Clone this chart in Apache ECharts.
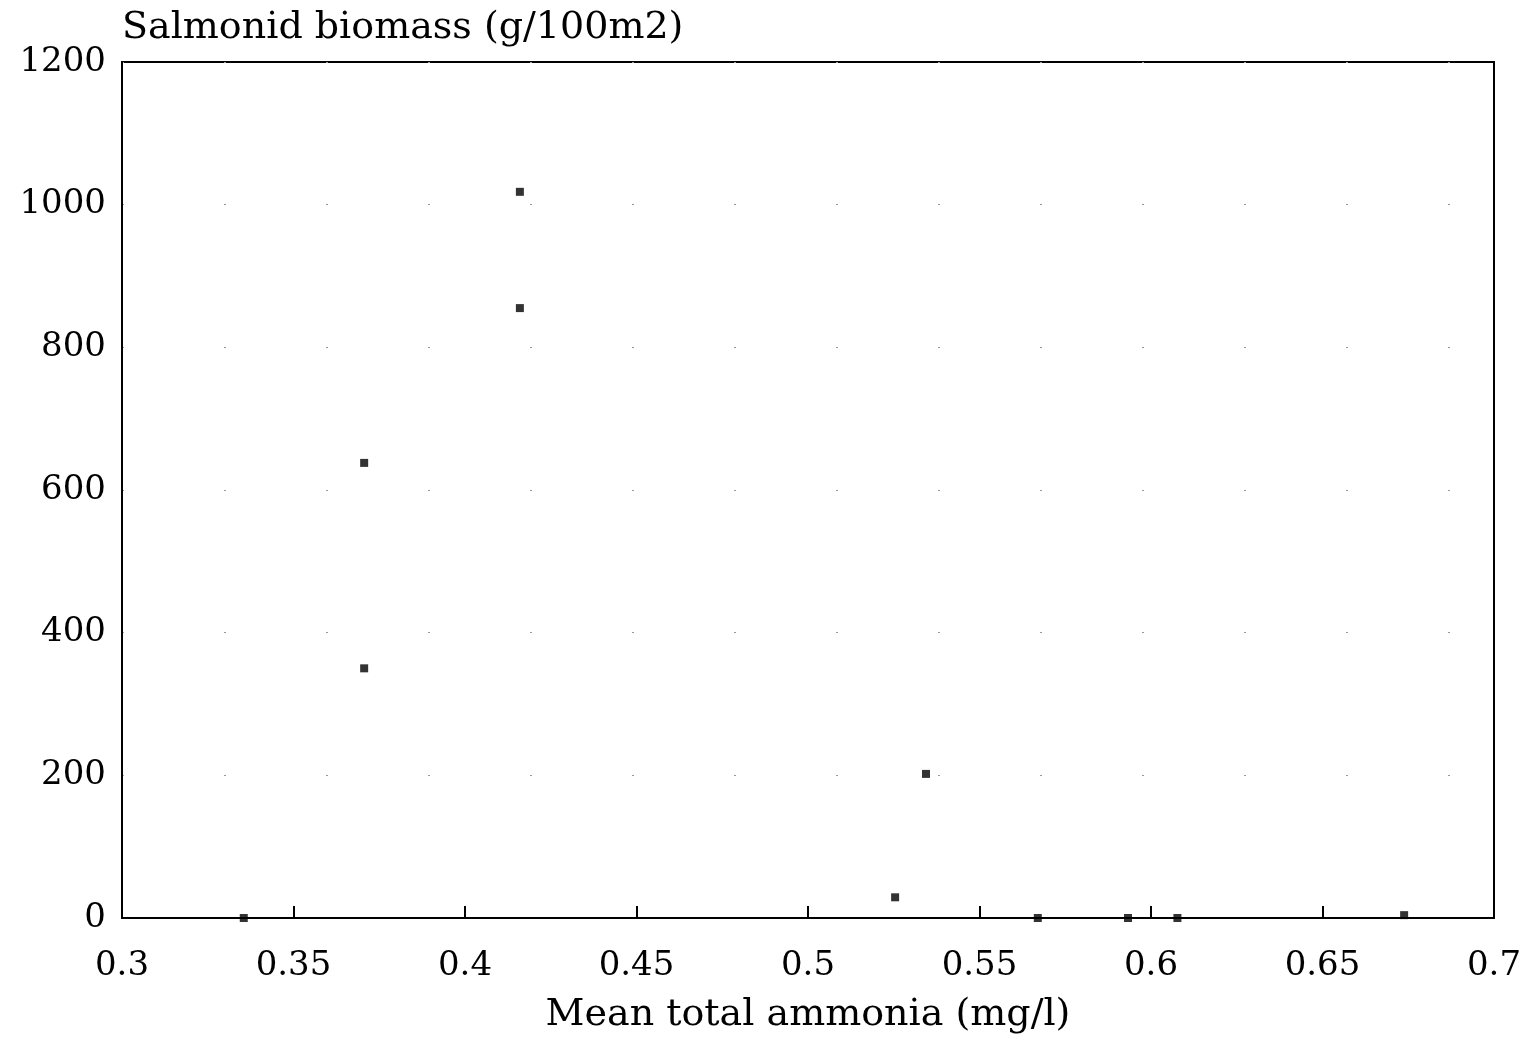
<!DOCTYPE html>
<html>
<head>
<meta charset="utf-8">
<script src="https://cdn.jsdelivr.net/npm/echarts@6/dist/echarts.min.js"></script>
<style>html,body{margin:0;padding:0;background:#fff;}#c{width:1528px;height:1039px;}</style>
</head>
<body>
<div id="c"></div>
<script>
// Data
const ammonia = [0.3355, 0.3706, 0.3706, 0.416, 0.416, 0.5254, 0.5344, 0.567, 0.5933, 0.6077, 0.6738];
const biomass = [0, 638, 350, 1018, 855, 29, 202, 0, 0, 0, 4];
const xTicks = [0.3, 0.35, 0.4, 0.45, 0.5, 0.55, 0.6, 0.65, 0.7];
const yTicks = [0, 200, 400, 600, 800, 1000, 1200];
const xTitle = 'Mean total ammonia (mg/l)';
const yTitle = 'Salmonid biomass (g/100m2)';

const points = ammonia.map((x, i) => [x, biomass[i]]);
const font = '"DejaVu Serif", "Liberation Serif", serif';

const chart = echarts.init(document.getElementById('c'));
chart.setOption({
  animation: false,
  backgroundColor: '#fff',
  grid: { left: 122, right: 34, top: 62, bottom: 121, show: true, borderColor: '#000', borderWidth: 2, backgroundColor: 'transparent' },
  xAxis: {
    type: 'value',
    min: xTicks[0], max: xTicks[xTicks.length - 1], interval: xTicks[1] - xTicks[0],
    name: xTitle, nameLocation: 'middle', nameGap: 78,
    nameTextStyle: { fontFamily: font, fontSize: 38, color: '#000' },
    axisLine: { show: true, onZero: false, lineStyle: { color: '#000', width: 2 } },
    axisTick: { show: true, inside: true, length: 12, lineStyle: { color: '#000', width: 2 } },
    axisLabel: { fontFamily: font, fontSize: 34, color: '#000', margin: 31, formatter: v => String(+v.toFixed(2)) },
    splitLine: { show: false }
  },
  yAxis: {
    type: 'value',
    min: yTicks[0], max: yTicks[yTicks.length - 1], interval: yTicks[1] - yTicks[0],
    name: yTitle, nameLocation: 'end', nameGap: 15,
    nameTextStyle: { fontFamily: font, fontSize: 38, color: '#000', align: 'left', verticalAlign: 'bottom' },
    axisLine: { show: true, lineStyle: { color: '#000', width: 2 } },
    axisTick: { show: false },
    axisLabel: { fontFamily: font, fontSize: 34, color: '#000', margin: 16, formatter: v => String(v) },
    splitLine: { show: true, lineStyle: { color: '#999', width: 1, type: [2, 100] } }
  },
  series: [{
    type: 'scatter',
    data: points,
    symbol: 'rect',
    symbolSize: 8,
    itemStyle: { color: '#000' }
  }]
});
</script>
</body>
</html>
